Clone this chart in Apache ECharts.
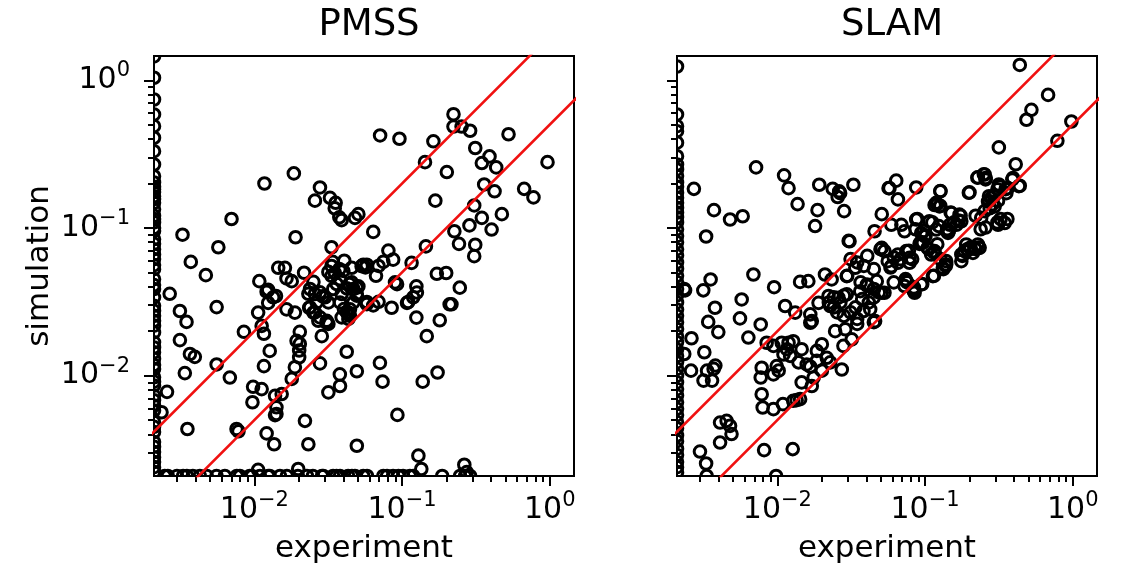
<!DOCTYPE html>
<html><head><meta charset="utf-8">
<script src="https://cdn.jsdelivr.net/npm/echarts@6/dist/echarts.min.js"></script>
<style>html,body{margin:0;padding:0;background:#fff}#c{width:1122px;height:571px}</style>
</head><body><div id="c"></div>
<script>
const panelTitles = ['PMSS', 'SLAM'];
const xAxisTitle = 'experiment';
const yAxisTitle = 'simulation';
const axisMin = 0.00209;
const axisMax = 1.46;
const majorTicks = [0.01, 0.1, 1];
const minorTicks = [0.003,0.004,0.005,0.006,0.007,0.008,0.009,0.02,0.03,0.04,0.05,0.06,0.07,0.08,0.09,0.2,0.3,0.4,0.5,0.6,0.7,0.8,0.9];
const guideRatios = [2, 0.5];
const guideX = [0.0005, 5];

// [experiment, simulation]
const pmssPoints = [
// left edge
[0.00209,1.45],[0.00209,1.04],[0.00209,0.741],[0.00209,0.587],[0.00209,0.489],[0.00209,0.408],[0.00209,0.331],[0.00209,0.269],[0.00209,0.224],[0.00209,0.203],[0.00209,0.19],[0.00209,0.183],[0.00209,0.175],[0.00209,0.164],[0.00209,0.157],[0.00209,0.148],[0.00209,0.134],[0.00209,0.121],[0.00209,0.115],[0.00209,0.109],[0.00209,0.1],[0.00209,0.0955],[0.00209,0.0839],[0.00209,0.078],[0.00209,0.0718],[0.00209,0.066],[0.00209,0.0615],[0.00209,0.056],[0.00209,0.0526],[0.00209,0.045],[0.00209,0.041],[0.00209,0.0386],[0.00209,0.0339],[0.00209,0.0297],[0.00209,0.0275],[0.00209,0.0254],[0.00209,0.0235],[0.00209,0.0218],[0.00209,0.0196],[0.00209,0.0168],[0.00209,0.0155],[0.00209,0.0144],[0.00209,0.013],[0.00209,0.0118],[0.00209,0.0111],[0.00209,0.00975],[0.00209,0.0091],[0.00209,0.00856],[0.00209,0.00732],[0.00209,0.0068],[0.00209,0.00627],[0.00209,0.0058],[0.00209,0.00484],[0.00209,0.0045],[0.00209,0.00415],[0.00209,0.00355],[0.00209,0.0033],[0.00209,0.00304],[0.00209,0.0028],[0.00209,0.0026],[0.00209,0.0024],[0.00209,0.00222],
[0.00235,0.00565],[0.00267,0.0358],[0.00256,0.00776],
// bottom edge
[0.00247,0.00209],[0.00259,0.00209],[0.00299,0.00209],[0.00329,0.00209],[0.00349,0.00209],[0.00383,0.00209],[0.00427,0.00209],[0.00476,0.00209],[0.00554,0.00209],[0.00631,0.00209],[0.0076,0.00209],[0.00798,0.00209],[0.0093,0.00209],[0.00962,0.00209],[0.0109,0.00209],[0.0124,0.00209],[0.0127,0.00209],[0.0149,0.00209],[0.0166,0.00209],[0.0197,0.00209],[0.0227,0.00209],[0.0249,0.00209],[0.0287,0.00209],[0.0293,0.00209],[0.0341,0.00209],[0.036,0.00209],[0.038,0.00209],[0.0431,0.00209],[0.0458,0.00209],[0.048,0.00209],[0.0546,0.00209],[0.0579,0.00209],[0.0747,0.00209],[0.0791,0.00209],[0.0869,0.00209],[0.0945,0.00209],[0.1016,0.00209],[0.113,0.00209],[0.119,0.00209],[0.187,0.00209],[0.247,0.00209],[0.267,0.00209],[0.289,0.00209],
[0.0198,0.00233],[0.0106,0.0023],[0.135,0.00233],[0.129,0.00287],[0.264,0.00249],[0.274,0.00222],
// interior
[0.0117,0.20],[0.0185,0.234],[0.0278,0.188],[0.0257,0.153],[0.0325,0.160],[0.0355,0.148],[0.035,0.136],[0.0376,0.118],[0.039,0.113],[0.0506,0.124],[0.048,0.117],[0.0070,0.115],[0.00326,0.090],[0.0057,0.074],[0.019,0.0865],[0.00371,0.0589],[0.0333,0.074],[0.0145,0.0537],[0.0161,0.0537],[0.0406,0.060],[0.0339,0.0589],[0.0546,0.0563],
[0.223,0.589],[0.223,0.486],[0.253,0.486],[0.289,0.455],[0.071,0.423],[0.096,0.402],[0.163,0.386],[0.526,0.431],[0.313,0.348],[0.391,0.305],[0.347,0.275],[0.434,0.257],[0.143,0.279],[0.201,0.239],[0.966,0.279],[0.360,0.197],[0.423,0.177],[0.671,0.184],[0.776,0.161],[0.168,0.153],[0.308,0.142],[0.347,0.117],[0.474,0.124],[0.286,0.104],[0.404,0.0975],[0.226,0.095],[0.0638,0.094],[0.243,0.078],[0.313,0.077],[0.308,0.0644],[0.145,0.075],[0.0808,0.0703],[0.087,0.061],[0.0747,0.0589],[0.116,0.058],[0.0577,0.0563],
[0.00469,0.0479],[0.00313,0.0274],[0.00347,0.0231],[0.00313,0.0174],[0.00366,0.014],[0.00395,0.0134],[0.00338,0.0104],[0.00555,0.0291],[0.00555,0.0119],[0.00682,0.0097],[0.00849,0.0198],[0.00352,0.00435],[0.00757,0.00435],[0.0078,0.0042],
[0.0108,0.0436],[0.0121,0.037],[0.014,0.0346],[0.0124,0.0311],[0.0106,0.0267],[0.0112,0.0217],[0.0116,0.0192],[0.0165,0.0455],[0.0179,0.0436],[0.0165,0.0281],[0.0188,0.0267],[0.0217,0.0497],[0.0251,0.0431],[0.0232,0.0358],[0.0124,0.0381],[0.0134,0.0339],
[0.0238,0.0386],[0.0257,0.0357],[0.0278,0.0366],[0.0301,0.0339],[0.0264,0.0313],[0.029,0.0344],[0.0317,0.0313],[0.0342,0.0386],[0.0361,0.0417],[0.038,0.045],[0.04,0.0512],[0.044,0.0417],[0.0468,0.0386],[0.039,0.0357],[0.038,0.0313],[0.0404,0.0282],[0.0433,0.0261],[0.0238,0.029],[0.0257,0.0268],[0.0278,0.0248],[0.0309,0.0235],[0.039,0.0248],[0.0444,0.0254],[0.0468,0.0313],[0.0493,0.0348],[0.0577,0.0305],
[0.0333,0.0553],[0.0376,0.0526],[0.0317,0.0504],[0.0351,0.0494],[0.0333,0.0474],[0.0693,0.0553],[0.0565,0.054],[0.0666,0.0474],[0.0456,0.0428],[0.0506,0.0402],[0.0422,0.039],[0.0493,0.0357],[0.0896,0.0428],[0.0925,0.0416],[0.125,0.0402],[0.126,0.0365],[0.119,0.0339],[0.110,0.0315],[0.108,0.0311],[0.246,0.0394],[0.172,0.0489],[0.199,0.0495],
[0.0577,0.0315],[0.0638,0.0299],[0.0693,0.0316],[0.21,0.0304],[0.216,0.0304],[0.085,0.0288],[0.0456,0.0537],[0.0494,0.0394],[0.0433,0.0267],[0.0444,0.0281],[0.0532,0.0551],
[0.0422,0.0268],[0.0433,0.0242],[0.0317,0.0224],[0.0286,0.0185],[0.0309,0.0228],[0.0235,0.0288],[0.0251,0.0267],[0.0271,0.0235],[0.125,0.0247],[0.18,0.0237],[0.147,0.0185],
[0.0203,0.0198],[0.0193,0.0172],[0.0203,0.0164],[0.0201,0.0148],[0.0201,0.0133],[0.0188,0.0114],[0.0179,0.0095],
[0.0278,0.0121],[0.0127,0.0147],[0.0422,0.0145],[0.0116,0.0116],[0.0379,0.0102],[0.038,0.0085],[0.0494,0.0107],[0.0708,0.0122],[0.0738,0.0091],[0.138,0.0091],[0.174,0.0105],
[0.0098,0.0084],[0.0112,0.0081],[0.0097,0.0066],[0.0317,0.0077],[0.0138,0.0073],[0.0153,0.0075],[0.0141,0.0061],[0.0138,0.0054],[0.0141,0.0055],[0.093,0.00542],[0.022,0.00494],[0.0121,0.00406],[0.0136,0.00343],[0.0232,0.00343],[0.0494,0.00335]
];

const slamPoints = [
// left edge
[0.00209,1.24],[0.00209,0.587],[0.00209,0.489],[0.00209,0.452],[0.00209,0.378],[0.00209,0.306],[0.00209,0.269],[0.00209,0.249],[0.00209,0.225],[0.00209,0.203],[0.00209,0.19],[0.00209,0.173],[0.00209,0.16],[0.00209,0.148],[0.00209,0.137],[0.00209,0.127],[0.00209,0.118],[0.00209,0.109],[0.00209,0.098],[0.00209,0.0883],[0.00209,0.08],[0.00209,0.0718],[0.00209,0.065],[0.00209,0.0584],[0.00209,0.053],[0.00209,0.0474],[0.00209,0.043],[0.00209,0.0386],[0.00209,0.035],[0.00209,0.0313],[0.00209,0.028],[0.00209,0.0254],[0.00209,0.023],[0.00209,0.0207],[0.00209,0.0185],[0.00209,0.0168],[0.00209,0.015],[0.00209,0.0136],[0.00209,0.0123],[0.00209,0.0111],[0.00209,0.01],[0.00209,0.009],[0.00209,0.0081],[0.00209,0.00732],[0.00209,0.0066],[0.00209,0.00596],[0.00209,0.0054],[0.00209,0.00484],[0.00209,0.0044],[0.00209,0.00393],[0.00209,0.0036],[0.00209,0.0032],[0.00209,0.0029],[0.00209,0.0026],[0.00209,0.0024],[0.00209,0.00222],
[0.00237,0.0378],[0.00262,0.0179],[0.00234,0.014],[0.0026,0.0108],[0.00272,0.184],[0.00234,0.0386],
// interior
[0.00717,0.257],[0.0111,0.227],[0.0119,0.186],[0.0137,0.145],[0.0192,0.196],[0.0237,0.184],[0.0262,0.177],[0.0256,0.162],[0.0266,0.172],[0.0327,0.196],[0.0566,0.186],[0.00372,0.132],[0.00478,0.114],[0.00582,0.120],[0.00329,0.0875],[0.0187,0.132],[0.018,0.103],[0.0283,0.130],[0.0308,0.0813],[0.0509,0.124],[0.0455,0.095],[0.0509,0.0733],
[0.438,1.27],[0.681,0.796],[0.525,0.631],[0.486,0.540],[0.979,0.526],[0.787,0.389],[0.316,0.351],[0.411,0.270],[0.228,0.220],[0.253,0.230],[0.257,0.218],[0.394,0.218],[0.438,0.193],[0.0638,0.209],[0.0574,0.186],[0.0871,0.188],[0.0655,0.156],[0.127,0.177],[0.200,0.174],[0.320,0.191],[0.355,0.172],[0.364,0.186],[0.281,0.160],[0.267,0.151],[0.312,0.153],[0.296,0.140],[0.274,0.136],[0.253,0.130],[0.240,0.117],[0.119,0.148],[0.125,0.140],[0.116,0.143],[0.151,0.126],[0.171,0.123],[0.176,0.111],[0.163,0.105],[0.147,0.105],[0.143,0.0925],[0.0871,0.114],[0.107,0.111],[0.119,0.0975],[0.0591,0.105],[0.0691,0.105],[0.0726,0.095],[0.0942,0.0925],[0.0993,0.0879],[0.0967,0.0793],[0.0918,0.078],[0.104,0.0733],[0.116,0.0697],[0.110,0.0661],[0.190,0.0773],[0.185,0.0697],[0.195,0.0704],[0.217,0.0733],[0.234,0.0733],[0.211,0.0678],[0.176,0.0661],[0.228,0.0773],[0.0655,0.0661],[0.0785,0.0627],[0.0746,0.0697],[0.0531,0.0697],[0.0559,0.0596],[0.139,0.0596],[0.346,0.108],[0.312,0.105],
[0.0591,0.0551],[0.0785,0.0581],[0.0655,0.0581],[0.0746,0.0436],[0.0726,0.0404],[0.0828,0.0383],[0.085,0.0364],[0.0942,0.0415],[0.113,0.0472],[0.132,0.0537],[0.139,0.0566],[0.176,0.0596],[0.0531,0.0364],
[0.00688,0.0484],[0.00353,0.0448],[0.00315,0.0378],[0.0095,0.0397],[0.01425,0.0431],[0.0162,0.0436],[0.021,0.0484],[0.0233,0.0448],[0.0295,0.0472],[0.0337,0.0537],[0.00573,0.0328],[0.00378,0.0288],[0.00558,0.0244],[0.0034,0.0231],[0.00398,0.0197],[0.00771,0.0222],[0.00636,0.0181],[0.01128,0.0296],[0.0132,0.0267],[0.0167,0.026],[0.0171,0.0234],[0.0167,0.0228],[0.019,0.0311],[0.0222,0.0346],[0.0228,0.0296],[0.0259,0.0337],[0.0295,0.0355],[0.0246,0.02],[0.0288,0.0206],[0.0319,0.0176],[0.028,0.0159],[0.0273,0.011],[0.0448,0.0337],[0.0425,0.0281],[0.0459,0.0234],[0.0383,0.0274],[0.0364,0.0373],[0.0404,0.0414],[0.0471,0.0436],[0.0509,0.0364],
[0.00846,0.0167],[0.0094,0.0159],[0.0107,0.0167],[0.0119,0.0167],[0.0128,0.0171],[0.0116,0.0151],[0.011,0.0139],[0.0122,0.0136],[0.0146,0.0151],[0.0139,0.0123],[0.00783,0.0113],[0.00771,0.0097],[0.00989,0.0116],[0.0102,0.0108],[0.0094,0.0102],[0.0185,0.0147],[0.02,0.0163],[0.0216,0.0132],[0.0228,0.0123],[0.0185,0.0126],[0.0167,0.0115],[0.0158,0.0119],[0.0146,0.009],[0.0176,0.0097],[0.02,0.0108],[0.0171,0.0085],[0.00783,0.00748],[0.00795,0.00608],[0.0094,0.00593],[0.0109,0.00641],[0.0128,0.00675],[0.0135,0.00682],[0.01425,0.00693],[0.00409,0.00481],[0.00453,0.00494],[0.00478,0.00457],[0.00489,0.00402],[0.00409,0.00352],[0.00299,0.00306],[0.00329,0.00254],[0.00332,0.00209],[0.00813,0.00313],[0.0127,0.00318],[0.0098,0.00209],
[0.0032,0.0144],[0.00334,0.0108],[0.0037,0.0111],[0.0038,0.0117],[0.00316,0.00925],[0.00361,0.00925],
[0.0304,0.0817],[0.0313,0.0615],[0.0347,0.0584],[0.0385,0.0553],[0.045,0.0526],[0.0499,0.0718],[0.0406,0.0647],[0.0297,0.0474],[0.0366,0.0428],[0.0406,0.0406],[0.045,0.0386],[0.0486,0.0366],[0.0375,0.033],[0.0416,0.0313],[0.0338,0.029],[0.0313,0.0268],[0.0282,0.0254],[0.0347,0.0242],[0.0347,0.0224],[0.045,0.023],[0.0282,0.0348],[0.0267,0.0313],[0.0241,0.0339],[0.0223,0.0313],[0.0241,0.029],[0.0254,0.0268],
[0.0614,0.0631],[0.0682,0.0615],[0.0777,0.07],[0.0818,0.0615],[0.0583,0.0539],[0.0614,0.0428],[0.0738,0.045],[0.0757,0.0428],[0.084,0.0375],[0.0957,0.0417],[0.084,0.0396],
[0.0885,0.115],[0.0862,0.098],[0.0981,0.0955],[0.1007,0.0883],[0.0932,0.0797],[0.106,0.0718],[0.115,0.0682],[0.121,0.0776],[0.112,0.109],[0.124,0.103],[0.141,0.0955],[0.127,0.0615],[0.138,0.0553],[0.133,0.0526],[0.115,0.0474],[0.127,0.178],[0.121,0.145],[0.127,0.141],[0.149,0.127],[0.157,0.109],[0.174,0.121],[0.169,0.112],[0.141,0.098],[0.145,0.0955],[0.179,0.0647],[0.193,0.0718],[0.203,0.0737],[0.220,0.0718],[0.232,0.0737],[0.226,0.219],[0.25,0.231],[0.257,0.213],[0.198,0.173],[0.220,0.121],[0.238,0.098],[0.257,0.1006],[0.271,0.164],[0.293,0.164],[0.286,0.145],[0.309,0.183],[0.316,0.197],[0.351,0.183],[0.39,0.213],[0.432,0.192],[0.361,0.115],[0.309,0.109],[0.325,0.115],[0.271,0.152]
];

const FONT = 'DejaVu Sans';
const panelData = [pmssPoints, slamPoints];
const gridLefts = [154, 677];
const gridTop = 56, gridSize = 420;

function supLabel(v) {
  const e = Math.round(Math.log10(v));
  return '{b|10}{s|' + (e < 0 ? '\u2212' + (-e) : String(e)) + '}';
}
const richLabel = {
  b: { fontSize: 30, fontFamily: FONT, color: '#000', lineHeight: 40 },
  s: { fontSize: 21, fontFamily: FONT, color: '#000', lineHeight: 21, verticalAlign: 'top' }
};

const grids = [], xAxes = [], yAxes = [], series = [], titles = [];
panelData.forEach((pts, i) => {
  grids.push({ left: gridLefts[i], top: gridTop, width: gridSize, height: gridSize, show: true,
    borderColor: '#000', borderWidth: 2, backgroundColor: 'transparent' });
  titles.push({ text: panelTitles[i], left: gridLefts[i] + gridSize / 2, top: 2, textAlign: 'center',
    textStyle: { fontFamily: FONT, fontSize: 37, fontWeight: 'normal', color: '#000' } });
  const tickStyle = { color: '#000', width: 2 };
  xAxes.push({ gridIndex: i, type: 'log', min: axisMin, max: axisMax, position: 'bottom',
    axisLine: { show: false }, splitLine: { show: false },
    axisTick: { show: true, length: 10, lineStyle: tickStyle, customValues: majorTicks },
    axisLabel: { customValues: majorTicks, formatter: supLabel, rich: richLabel, margin: 14 },
    name: xAxisTitle, nameLocation: 'middle', nameGap: 57,
    nameTextStyle: { fontFamily: FONT, fontSize: 31, color: '#000' } });
  xAxes.push({ gridIndex: i, type: 'log', min: axisMin, max: axisMax, position: 'bottom',
    axisLine: { show: false }, splitLine: { show: false },
    axisTick: { show: true, length: 6, lineStyle: tickStyle, customValues: minorTicks },
    axisLabel: { show: false } });
  yAxes.push({ gridIndex: i, type: 'log', min: axisMin, max: axisMax, position: 'left',
    axisLine: { show: false }, splitLine: { show: false },
    axisTick: { show: true, length: 10, lineStyle: tickStyle, customValues: majorTicks },
    axisLabel: { show: i === 0, customValues: majorTicks, formatter: supLabel, rich: richLabel, margin: 24 },
    name: i === 0 ? yAxisTitle : '', nameLocation: 'middle', nameGap: 99, nameRotate: 90,
    nameTextStyle: { fontFamily: FONT, fontSize: 31, color: '#000' } });
  yAxes.push({ gridIndex: i, type: 'log', min: axisMin, max: axisMax, position: 'left',
    axisLine: { show: false }, splitLine: { show: false },
    axisTick: { show: true, length: 6, lineStyle: tickStyle, customValues: minorTicks },
    axisLabel: { show: false } });
  series.push({ type: 'custom', xAxisIndex: 2 * i, yAxisIndex: 2 * i, clip: true, data: pts, z: 2,
    renderItem: function (params, api) {
      const p = api.coord([api.value(0), api.value(1)]);
      return { type: 'circle', shape: { cx: p[0], cy: p[1], r: 5.8 },
        style: { fill: 'none', stroke: '#000', lineWidth: 3 } };
    } });
  guideRatios.forEach(r => {
    series.push({ type: 'line', xAxisIndex: 2 * i, yAxisIndex: 2 * i, clip: true, z: 3,
      data: guideX.map(x => [x, x * r]), showSymbol: false, symbol: 'none', silent: true,
      lineStyle: { color: '#f01010', width: 2.6 } });
  });
});

const chart = echarts.init(document.getElementById('c'), null, { renderer: 'canvas' });
chart.setOption({ animation: false, backgroundColor: '#fff', title: titles, grid: grids,
  xAxis: xAxes, yAxis: yAxes, series: series });
</script></body></html>
